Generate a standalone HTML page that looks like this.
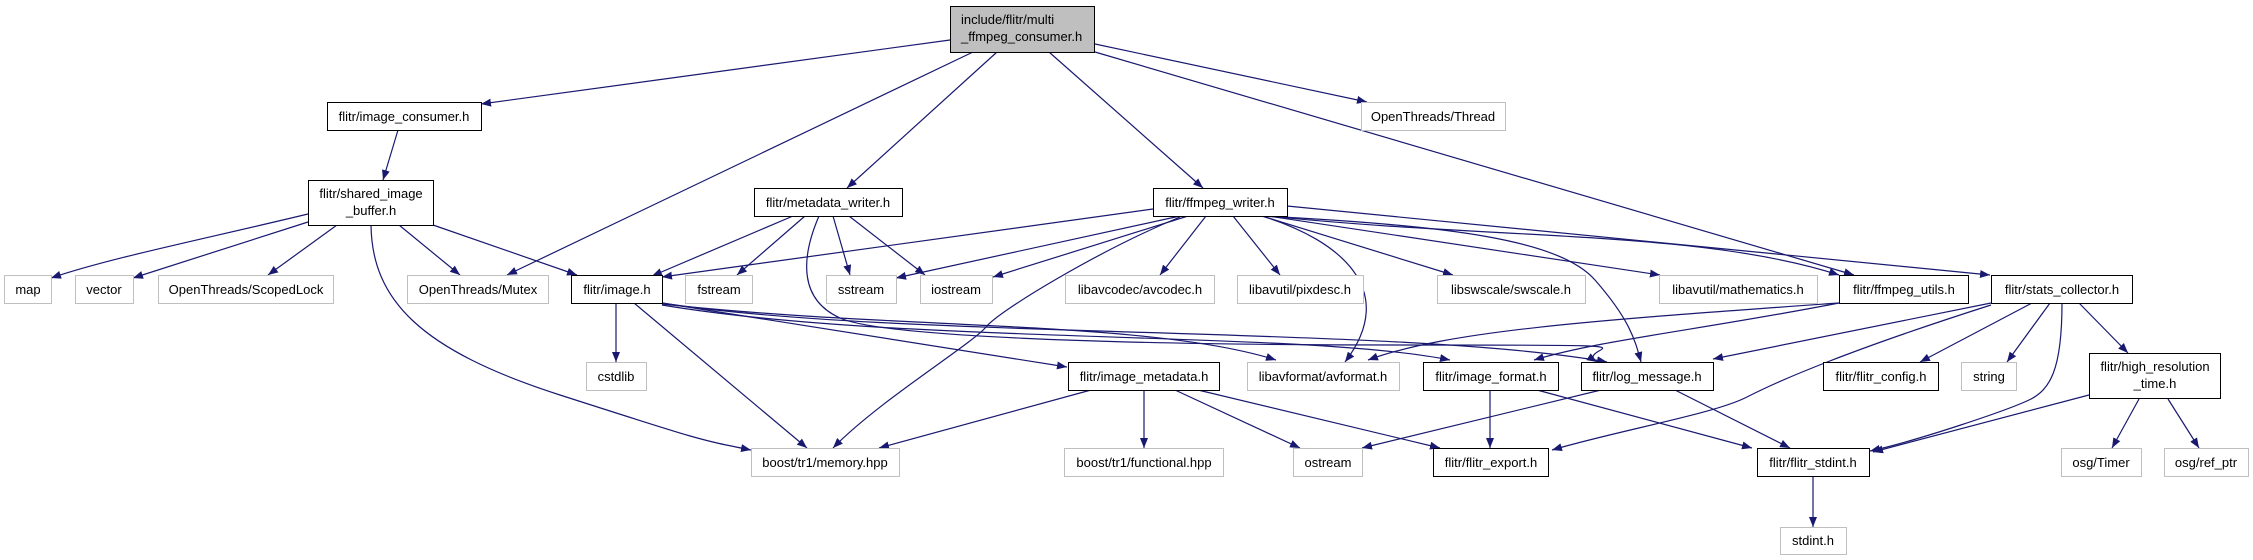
<!DOCTYPE html>
<html><head><meta charset="utf-8"><style>
html,body{margin:0;padding:0;background:#fff;width:2253px;height:560px;overflow:hidden}
svg text{font-family:"Liberation Sans",sans-serif;font-size:13px;fill:#000}
</style></head><body>
<svg width="2253" height="560" viewBox="0 0 2253 560" xmlns="http://www.w3.org/2000/svg">
<defs><marker id="a" markerWidth="11" markerHeight="8" refX="10" refY="4" orient="auto" markerUnits="userSpaceOnUse"><path d="M0,0 L10,4 L0,8 z" fill="#191970"/></marker></defs>
<g fill="none" stroke="#191970" stroke-width="1.2" marker-end="url(#a)">
<path d="M950,40 L481,104"/>
<path d="M973,52 L507,275"/>
<path d="M997,52 L847,188"/>
<path d="M1049,52 L1203,188"/>
<path d="M1095,44 L1367,102"/>
<path d="M1095,52 L1854,275"/>
<path d="M398,130 L383,180"/>
<path d="M308,214 C200,240 110,258 51,278"/>
<path d="M308,222 L133,278"/>
<path d="M337,225 L268,275"/>
<path d="M399,225 L460,275"/>
<path d="M433,225 L577,275"/>
<path d="M371,225 C372,300 420,350 560,395 S700,440 751,450"/>
<path d="M793,216 L652,276"/>
<path d="M805,216 L737,275"/>
<path d="M833,216 L850,275"/>
<path d="M849,216 L925,275"/>
<path d="M819,216 C800,260 800,300 840,318 S1100,345 1400,345 S1570,345 1597,362"/>
<path d="M1153,209 L662,277"/>
<path d="M1180,216 L896,278"/>
<path d="M1188,216 L993,277"/>
<path d="M1180,217 C1100,250 1000,310 986,327 S880,400 833,448"/>
<path d="M1206,216 L1160,275"/>
<path d="M1233,216 L1280,275"/>
<path d="M1262,216 C1340,240 1400,290 1345,362"/>
<path d="M1262,216 L1453,275"/>
<path d="M1268,216 L1660,275"/>
<path d="M1268,216 C1500,240 1700,230 1839,275"/>
<path d="M1287,206 L1990,275"/>
<path d="M1260,216 C1450,225 1560,240 1595,280 S1635,340 1641,362"/>
<path d="M616,303 L616,362"/>
<path d="M634,303 L807,448"/>
<path d="M662,303 L1067,367"/>
<path d="M662,304 C900,330 1150,320 1276,360"/>
<path d="M662,305 C900,345 1300,330 1450,360"/>
<path d="M662,303 C900,340 1400,325 1607,362"/>
<path d="M1839,303 C1600,320 1450,330 1368,360"/>
<path d="M1839,303 C1700,330 1600,340 1534,360"/>
<path d="M1991,303 L1713,359"/>
<path d="M1991,305 C1850,350 1780,380 1747,397 S1620,430 1552,450"/>
<path d="M2032,303 L1920,362"/>
<path d="M2050,303 L2007,362"/>
<path d="M2079,303 L2128,353"/>
<path d="M2062,303 C2062,370 2050,390 2029,400 S1920,440 1870,451"/>
<path d="M1091,390 L879,448"/>
<path d="M1144,390 L1144,448"/>
<path d="M1175,390 L1300,448"/>
<path d="M1198,390 L1440,448"/>
<path d="M1490,390 L1490,448"/>
<path d="M1537,390 L1752,448"/>
<path d="M1601,390 L1362,448"/>
<path d="M1675,390 L1790,448"/>
<path d="M2089,395 L1873,452"/>
<path d="M2139,399 L2112,448"/>
<path d="M2168,399 L2199,448"/>
<path d="M1813,476 L1813,527"/>
</g>
<g stroke-width="1">
<rect x="950.5" y="6.5" width="144" height="46" fill="#bfbfbf" stroke="#000"/>
<g fill="#fff" stroke="#000">
<rect x="327.5" y="102.5" width="154" height="28"/>
<rect x="308.5" y="180.5" width="125" height="45"/>
<rect x="754.5" y="188.5" width="148" height="28"/>
<rect x="1153.5" y="188.5" width="134" height="28"/>
<rect x="571.5" y="275.5" width="91" height="28"/>
<rect x="1839.5" y="275.5" width="129" height="28"/>
<rect x="1991.5" y="275.5" width="141" height="28"/>
<rect x="1068.5" y="362.5" width="151" height="28"/>
<rect x="1423.5" y="362.5" width="135" height="28"/>
<rect x="1581.5" y="362.5" width="132" height="28"/>
<rect x="1823.5" y="362.5" width="115" height="28"/>
<rect x="2089.5" y="353.5" width="131" height="45"/>
<rect x="1433.5" y="448.5" width="115" height="28"/>
<rect x="1757.5" y="448.5" width="112" height="28"/>
</g>
<g fill="#fff" stroke="#bfbfbf">
<rect x="1361.5" y="102.5" width="144" height="28"/>
<rect x="4.5" y="275.5" width="47" height="28"/>
<rect x="75.5" y="275.5" width="58" height="28"/>
<rect x="158.5" y="275.5" width="175" height="28"/>
<rect x="407.5" y="275.5" width="141" height="28"/>
<rect x="685.5" y="275.5" width="67" height="28"/>
<rect x="826.5" y="275.5" width="70" height="28"/>
<rect x="920.5" y="275.5" width="72" height="28"/>
<rect x="1065.5" y="275.5" width="149" height="28"/>
<rect x="1237.5" y="275.5" width="126" height="28"/>
<rect x="1437.5" y="275.5" width="148" height="28"/>
<rect x="1659.5" y="275.5" width="158" height="28"/>
<rect x="586.5" y="362.5" width="60" height="28"/>
<rect x="1247.5" y="362.5" width="152" height="28"/>
<rect x="1961.5" y="362.5" width="55" height="28"/>
<rect x="751.5" y="448.5" width="148" height="28"/>
<rect x="1064.5" y="448.5" width="159" height="28"/>
<rect x="1293.5" y="448.5" width="69" height="28"/>
<rect x="2061.5" y="448.5" width="80" height="28"/>
<rect x="2164.5" y="448.5" width="84" height="28"/>
<rect x="1780.5" y="527.5" width="66" height="27"/>
</g>
</g>
<g text-anchor="middle">
<text x="961" y="24" text-anchor="start">include/flitr/multi</text>
<text x="961" y="41" text-anchor="start">_ffmpeg_consumer.h</text>
<text x="404" y="121">flitr/image_consumer.h</text>
<text x="371" y="198">flitr/shared_image</text>
<text x="371" y="215">_buffer.h</text>
<text x="828" y="207">flitr/metadata_writer.h</text>
<text x="1220" y="207">flitr/ffmpeg_writer.h</text>
<text x="1433" y="121">OpenThreads/Thread</text>
<text x="28" y="294">map</text>
<text x="104" y="294">vector</text>
<text x="246" y="294">OpenThreads/ScopedLock</text>
<text x="478" y="294">OpenThreads/Mutex</text>
<text x="617" y="294">flitr/image.h</text>
<text x="719" y="294">fstream</text>
<text x="861" y="294">sstream</text>
<text x="956" y="294">iostream</text>
<text x="1140" y="294">libavcodec/avcodec.h</text>
<text x="1300" y="294">libavutil/pixdesc.h</text>
<text x="1511" y="294">libswscale/swscale.h</text>
<text x="1738" y="294">libavutil/mathematics.h</text>
<text x="1904" y="294">flitr/ffmpeg_utils.h</text>
<text x="2062" y="294">flitr/stats_collector.h</text>
<text x="616" y="381">cstdlib</text>
<text x="1144" y="381">flitr/image_metadata.h</text>
<text x="1323" y="381">libavformat/avformat.h</text>
<text x="1491" y="381">flitr/image_format.h</text>
<text x="1647" y="381">flitr/log_message.h</text>
<text x="1881" y="381">flitr/flitr_config.h</text>
<text x="1989" y="381">string</text>
<text x="2155" y="371">flitr/high_resolution</text>
<text x="2155" y="388">_time.h</text>
<text x="825" y="467">boost/tr1/memory.hpp</text>
<text x="1144" y="467">boost/tr1/functional.hpp</text>
<text x="1328" y="467">ostream</text>
<text x="1491" y="467">flitr/flitr_export.h</text>
<text x="1813" y="467">flitr/flitr_stdint.h</text>
<text x="2101" y="467">osg/Timer</text>
<text x="2206" y="467">osg/ref_ptr</text>
<text x="1813" y="545">stdint.h</text>
</g>
</svg>
</body></html>
